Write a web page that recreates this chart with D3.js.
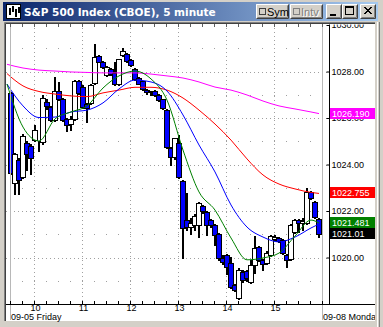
<!DOCTYPE html>
<html>
<head>
<meta charset="utf-8">
<script src="https://cdn.jsdelivr.net/npm/d3@7"></script>
<style>
  body { margin: 0; background: #d4d0c8; }
  svg { display: block; }
</style>
</head>
<body>
<div id="chart"></div>
<script>
// 5 minute bars, 09:30 .. 15:55
const opens  = [1027.08,1023.20,1024.19,1023.46,1024.92,1024.80,1025.05,1024.96,1024.97,1026.69,
                1026.47,1025.91,1027.16,1026.82,1025.96,1025.75,1025.96,1027.59,1027.33,1026.60,
                1026.65,1027.52,1028.66,1028.42,1027.85,1028.10,1027.95,1027.46,1028.70,1028.77,
                1028.49,1028.10,1027.70,1027.57,1027.20,1027.10,1027.15,1027.00,1026.80,1026.34,
                1024.70,1024.32,1024.92,1023.30,1021.60,1021.30,1021.40,1021.40,1022.20,1021.95,
                1021.60,1021.40,1021.00,1020.00,1020.10,1019.76,1018.80,1018.26,1019.38,1019.40,
                1018.95,1019.68,1020.45,1019.90,1019.75,1020.10,1020.80,1020.85,1020.75,1020.10,
                1019.94,1021.10,1021.60,1021.50,1021.48,1022.82,1022.40,1021.65];
const highs  = [1027.10,1024.50,1024.30,1025.31,1025.00,1024.90,1025.70,1025.00,1026.99,1026.80,
                1026.50,1027.76,1027.55,1026.85,1026.00,1026.10,1027.62,1027.62,1027.40,1026.65,
                1027.45,1029.18,1028.70,1028.45,1028.25,1028.15,1028.42,1028.55,1029.00,1028.80,
                1028.52,1028.15,1027.75,1027.60,1027.25,1027.18,1027.20,1027.05,1026.82,1026.40,
                1024.75,1025.14,1025.27,1023.35,1022.77,1021.70,1021.85,1022.40,1022.25,1022.00,
                1021.65,1021.45,1021.05,1020.10,1020.15,1020.02,1018.85,1019.55,1019.45,1019.45,
                1019.90,1020.92,1020.50,1019.95,1020.30,1020.95,1020.95,1020.90,1020.80,1020.15,
                1021.45,1021.65,1021.65,1021.70,1022.99,1022.85,1022.45,1021.70];
const lows   = [1023.60,1022.73,1022.73,1023.40,1023.76,1023.60,1025.00,1024.60,1024.90,1026.40,
                1025.85,1025.88,1026.78,1025.88,1025.44,1025.50,1025.90,1027.05,1026.45,1025.83,
                1026.60,1027.48,1028.40,1028.15,1027.80,1027.85,1027.40,1027.42,1028.65,1028.40,
                1028.25,1027.62,1027.45,1027.20,1027.05,1026.98,1026.95,1026.75,1026.40,1024.70,
                1023.98,1024.25,1023.40,1019.98,1021.18,1021.00,1021.20,1020.88,1021.90,1020.97,
                1021.30,1020.54,1019.90,1019.70,1019.29,1018.70,1018.55,1018.20,1018.95,1019.00,
                1018.90,1019.35,1019.85,1019.46,1019.70,1020.05,1020.75,1020.65,1020.15,1019.59,
                1019.90,1021.05,1021.10,1021.20,1021.45,1022.50,1021.70,1020.90];
const closes = [1023.65,1024.45,1023.33,1025.23,1024.45,1024.30,1025.48,1024.98,1026.86,1026.52,
                1025.91,1027.16,1026.82,1025.91,1025.70,1025.96,1027.59,1027.08,1026.47,1026.43,
                1027.42,1028.64,1028.42,1028.20,1028.20,1027.89,1027.46,1028.52,1028.90,1028.45,
                1028.30,1027.67,1027.48,1027.25,1027.10,1027.15,1027.00,1026.77,1026.42,1024.74,
                1024.31,1025.14,1023.46,1021.26,1021.30,1021.50,1021.78,1022.35,1022.00,1021.40,
                1021.40,1020.97,1019.96,1019.80,1019.60,1018.73,1018.60,1019.46,1019.03,1019.10,
                1019.68,1020.41,1019.90,1019.70,1020.20,1020.92,1020.90,1020.70,1020.20,1019.89,
                1021.40,1021.60,1021.50,1021.55,1022.82,1022.56,1021.74,1021.01];

// moving averages, read every 4th bar
const maBars    = [-1,3,7,11,15,19,23,27,31,35,39,43,47,51,55,59,63,67,71,75,77];
const maMagenta = [1028.31,1028.15,1028.06,1028.02,1027.98,1027.96,1027.94,1027.94,1027.94,1027.89,
                   1027.81,1027.72,1027.55,1027.33,1027.20,1026.99,1026.73,1026.52,1026.39,1026.26,1026.19];
const maRed     = [1027.91,1027.38,1027.14,1027.03,1026.95,1026.92,1027.08,1027.20,1027.32,1027.32,
                   1027.20,1026.86,1026.34,1025.74,1025.05,1024.24,1023.55,1023.16,1022.95,1022.80,1022.755];
const maBlue    = [1027.46,1026.52,1026.02,1026.04,1026.26,1026.34,1026.65,1027.25,1027.63,1027.55,
                   1027.16,1026.13,1024.84,1023.68,1022.26,1021.31,1020.88,1020.67,1020.88,1021.27,1021.44];
const maGreen   = [1027.46,1025.61,1025.01,1025.96,1026.26,1026.52,1027.29,1027.81,1028.02,1027.68,
                   1026.77,1024.62,1022.82,1022.04,1020.84,1019.90,1019.98,1020.19,1020.92,1021.61,1021.481];

const hourTicks  = [10, 11, 12, 13, 14, 15];
const priceTicks = [1020, 1022, 1024, 1026, 1028, 1030];
const gridPrices = [1019, 1020, 1021, 1022, 1023, 1024, 1025, 1026, 1027, 1028, 1029];
const lastLabels = ["1026.190", "1022.755", "1021.481", "1021.01"];
const lastValues = [maMagenta[maMagenta.length-1], maRed[maRed.length-1], maGreen[maGreen.length-1], closes[closes.length-1]];
const lastColors = ["#ff00ff", "#ff0000", "#008000", "#000000"];

const width = 383, height = 327;
const area = {left: 6, right: 375, top: 24, bottom: 304, axis: 329};
const font = "'Liberation Sans', Arial, sans-serif";

const svg = d3.select("#chart")
  .append("svg")
    .attr("width", width)
    .attr("height", height)
    .style("font-family", font);

const defs = svg.append("defs");
const grad = defs.append("linearGradient").attr("id", "titlebar").attr("x1", 0).attr("x2", 1);
grad.append("stop").attr("offset", 0).attr("stop-color", "#0a246a");
grad.append("stop").attr("offset", 1).attr("stop-color", "#a6caf0");
defs.append("clipPath").attr("id", "plotclip").append("rect")
  .attr("x", area.left).attr("y", area.top).attr("width", area.axis - area.left).attr("height", area.bottom - area.top);
defs.append("clipPath").attr("id", "axisclip").append("rect")
  .attr("x", area.left).attr("y", area.top + 0.5).attr("width", area.right - area.left).attr("height", 297);

// window frame
svg.append("rect").attr("width", width).attr("height", height).attr("fill", "#d4d0c8");
svg.append("rect").attr("x", 3).attr("y", 2).attr("width", 375).attr("height", 19).attr("fill", "url(#titlebar)");

// icon
svg.append("rect").attr("x", 6.5).attr("y", 4.5).attr("width", 14).attr("height", 14).attr("fill", "#fff").attr("stroke", "#000");
[[9, 8, 15], [12, 6, 12], [15, 9, 17], [18, 7, 13]].forEach(b => {
  svg.append("rect").attr("x", b[0]).attr("y", b[1]).attr("width", 2).attr("height", b[2] - b[1]).attr("fill", "#000");
});

svg.append("text")
  .attr("x", 24).attr("y", 16)
  .attr("fill", "#fff")
  .style("font-family", "'DejaVu Sans', Verdana, sans-serif")
  .style("font-weight", "bold")
  .style("font-size", "10.5px")
  .text("S&P 500 Index (CBOE), 5 minute");

// title buttons
function button(x, w) {
  const g = svg.append("g").attr("transform", `translate(${x},4)`);
  g.append("rect").attr("width", w).attr("height", 15).attr("fill", "#d4d0c8");
  g.append("path").attr("d", `M0.5,14.5V0.5H${w - 0.5}`).attr("fill", "none").attr("stroke", "#fff");
  g.append("path").attr("d", `M0.5,14.5H${w - 0.5}V0.5`).attr("fill", "none").attr("stroke", "#404040");
  g.append("path").attr("d", `M1.5,13.5H${w - 1.5}V1.5`).attr("fill", "none").attr("stroke", "#808080");
  return g;
}
const sym = button(256, 33);
sym.append("rect").attr("x", 3.5).attr("y", 4.5).attr("width", 6).attr("height", 6).attr("fill", "#d4d0c8").attr("stroke", "#404040");
sym.append("text").attr("x", 11).attr("y", 12).style("font-size", "11px").attr("fill", "#000").text("Sym");
const intv = button(290, 33);
intv.append("rect").attr("x", 3.5).attr("y", 4.5).attr("width", 6).attr("height", 6).attr("fill", "#d4d0c8").attr("stroke", "#808080");
intv.append("text").attr("x", 12).attr("y", 13).style("font-size", "11px").attr("fill", "#fff").text("Intv");
intv.append("text").attr("x", 11).attr("y", 12).style("font-size", "11px").attr("fill", "#808080").text("Intv");
const minb = button(326, 16);
minb.append("rect").attr("x", 4).attr("y", 10).attr("width", 6).attr("height", 2).attr("fill", "#000");
const maxb = button(342, 16);
maxb.append("rect").attr("x", 3.5).attr("y", 2.5).attr("width", 8).attr("height", 8).attr("fill", "none").attr("stroke", "#000");
maxb.append("rect").attr("x", 3).attr("y", 2).attr("width", 9).attr("height", 2).attr("fill", "#000");
const closeb = button(360, 16);
closeb.append("path").attr("d", "M4,3L11,10M5,3L12,10M11,3L4,10M12,3L5,10").attr("stroke", "#000").attr("stroke-width", 1);

// chart pane
svg.append("rect").attr("x", area.left).attr("y", area.top).attr("width", area.right - area.left).attr("height", 297).attr("fill", "#fff");
svg.append("path").attr("d", "M4.5,321V22.5H376").attr("fill", "none").attr("stroke", "#808080");
svg.append("path").attr("d", "M5.5,321V23.5H375").attr("fill", "none").attr("stroke", "#404040");
svg.append("rect").attr("x", 375).attr("y", 22).attr("width", 8).attr("height", 305).attr("fill", "#d4d0c8");
svg.append("line").attr("x1", 377.5).attr("x2", 377.5).attr("y1", 22).attr("y2", 327).attr("stroke", "#fff");
svg.append("line").attr("x1", 379.5).attr("x2", 379.5).attr("y1", 22).attr("y2", 327).attr("stroke", "#808080");

// scales
const x = d3.scaleLinear().domain([9.5, 16]).range([10, 322]);
const barX = i => Math.round(x(9.5 + (i + 0.25) * 5 / 60));
const y = d3.scaleLinear().domain([1018, 1030]).range([area.bottom, 25]);
const py = v => Math.round(y(v)) + 0.5;

const plot = svg.append("g").attr("clip-path", "url(#plotclip)");

// session lines
[9.5, 16].forEach(t => {
  svg.append("line")
    .attr("x1", Math.round(x(t)) + 0.5).attr("x2", Math.round(x(t)) + 0.5)
    .attr("y1", area.top).attr("y2", 320)
    .attr("stroke", "#b8b8b8");
});

// grid
plot.selectAll(".hgrid")
  .data(gridPrices)
  .join("line")
    .attr("x1", area.left).attr("x2", area.axis - 1)
    .attr("y1", d => py(d)).attr("y2", d => py(d))
    .attr("stroke", "#a0a0a0")
    .attr("stroke-dasharray", d => d % 2 === 0 ? "1,3" : "1,11")
    .attr("stroke-dashoffset", d => d % 2 === 0 ? 0 : -4);
plot.selectAll(".vgrid")
  .data(hourTicks)
  .join("line")
    .attr("x1", d => Math.round(x(d)) + 0.5).attr("x2", d => Math.round(x(d)) + 0.5)
    .attr("y1", area.top).attr("y2", area.bottom)
    .attr("stroke", "#a0a0a0")
    .attr("stroke-dasharray", "1,3");

// quarter hour ticks top and bottom
const quarters = d3.range(9.5, 16.01, 0.25);
svg.selectAll(".qtop")
  .data(quarters)
  .join("line")
    .attr("x1", d => Math.round(x(d)) + 0.5).attr("x2", d => Math.round(x(d)) + 0.5)
    .attr("y1", area.top).attr("y2", area.top + 3)
    .attr("stroke", "#606060");
svg.selectAll(".qbot")
  .data(quarters)
  .join("line")
    .attr("x1", d => Math.round(x(d)) + 0.5).attr("x2", d => Math.round(x(d)) + 0.5)
    .attr("y1", area.bottom - 3).attr("y2", area.bottom)
    .attr("stroke", "#000");

// candles
const bars = d3.range(opens.length);
plot.selectAll(".wick")
  .data(bars)
  .join("line")
    .attr("x1", i => barX(i)).attr("x2", i => barX(i))
    .attr("y1", i => Math.round(y(highs[i]))).attr("y2", i => Math.round(y(lows[i])) + 1)
    .attr("stroke", "#000")
    .attr("stroke-width", 2);
plot.selectAll(".body")
  .data(bars)
  .join("rect")
    .attr("x", i => barX(i) - 2.5)
    .attr("width", 5)
    .attr("y", i => py(Math.max(opens[i], closes[i])))
    .attr("height", i => Math.max(0, py(Math.min(opens[i], closes[i])) - py(Math.max(opens[i], closes[i]))))
    .attr("fill", i => closes[i] >= opens[i] ? "#fff" : "#0000ff")
    .attr("stroke", "#000");

// moving averages
const maLine = d3.line()
  .x(d => barX(d[0]))
  .y(d => y(d[1]))
  .curve(d3.curveMonotoneX);
[[maMagenta, "#ff00ff"], [maRed, "#ff0000"], [maBlue, "#0000ff"], [maGreen, "#008000"]].forEach(m => {
  plot.append("path")
    .datum(maBars.map((b, k) => [b, m[0][k]]))
    .attr("fill", "none")
    .attr("stroke", m[1])
    .attr("stroke-width", 1)
    .attr("d", maLine);
});

// price axis
const axisG = svg.append("g").attr("clip-path", "url(#axisclip)");
axisG.append("g")
  .attr("transform", `translate(${area.axis + 0.5},0)`)
  .call(d3.axisRight(y).tickValues(priceTicks).tickFormat(d3.format(".2f"))
    .tickSizeInner(-3).tickSizeOuter(0).tickPadding(2))
  .call(g => g.select(".domain").attr("d", `M0,${area.top}V${area.bottom}`).attr("stroke", "#000"))
  .call(g => g.selectAll("text").attr("font-family", font).attr("font-size", 9).attr("fill", "#000"));

// last value boxes
const tags = axisG.selectAll(".tag")
  .data(lastValues)
  .join("g")
    .attr("transform", d => `translate(${area.axis + 1},${Math.round(y(d)) - 6})`);
tags.append("rect").attr("width", area.right - area.axis - 1).attr("height", 11).attr("fill", (d, i) => lastColors[i]);
tags.append("text").attr("x", 2).attr("y", 9).attr("fill", "#fff").style("font-size", "9px").text((d, i) => lastLabels[i]);

// time axis
svg.append("line")
  .attr("x1", area.left).attr("x2", area.right)
  .attr("y1", area.bottom + 0.5).attr("y2", area.bottom + 0.5)
  .attr("stroke", "#000");
svg.append("g")
  .attr("transform", `translate(1,${area.bottom})`)
  .call(d3.axisBottom(x).tickValues(hourTicks).tickFormat(d3.format("d")).tickSize(0).tickPadding(1))
  .call(g => g.select(".domain").remove())
  .call(g => g.selectAll("text").attr("font-family", font).attr("font-size", 9).attr("fill", "#000"));

svg.append("text").attr("x", 11).attr("y", 320).style("font-size", "9px").text("09-05 Friday");
svg.append("text").attr("x", 323).attr("y", 320).style("font-size", "9px")
  .attr("clip-path", "url(#axisclip)").text("09-08 Monday");
</script>
</body>
</html>
